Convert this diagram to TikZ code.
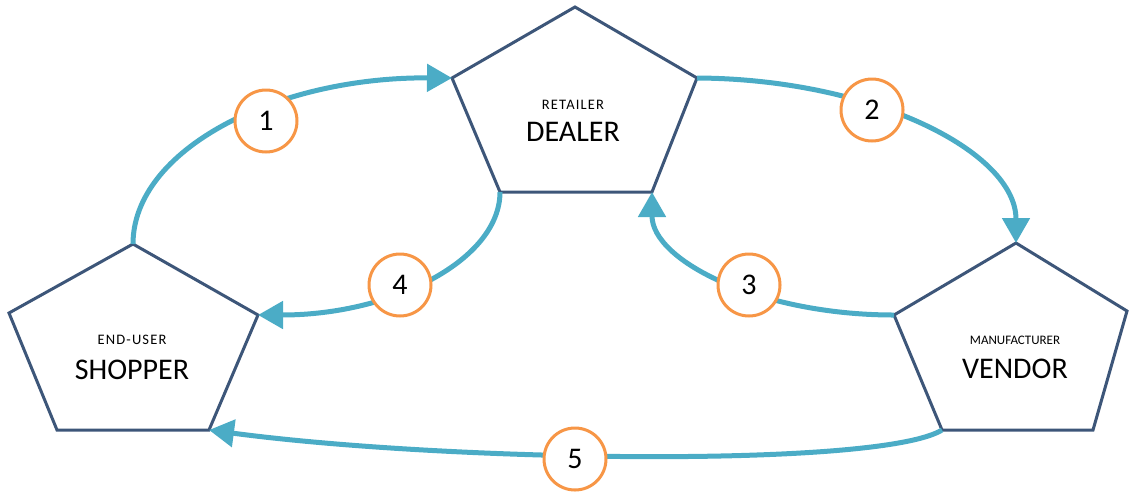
\documentclass[tikz,border=0pt]{standalone}
\usepackage{fontspec}
\setmainfont{Carlito}
\newfontfamily\spacedfont[LetterSpace=8]{Carlito}
\usetikzlibrary{arrows.meta}
\definecolor{penline}{HTML}{3D5679}
\definecolor{flow}{HTML}{4BACC6}
\definecolor{badge}{HTML}{F79646}
\begin{document}
\begin{tikzpicture}[x=1pt,y=-1pt,
  penta/.style={draw=penline,line width=3pt,line join=miter,fill=white},
  flowarrow/.style={draw=flow,line width=5pt,-{Triangle[length=25pt,width=27pt]}},
  badgecircle/.style={circle,draw=badge,line width=3pt,fill=white,minimum size=62pt,inner sep=0pt,font=\fontsize{30}{30}\selectfont},
  bigtxt/.style={font=\fontsize{30}{30}\selectfont,inner sep=0pt},
  smalltxt/.style={font=\fontsize{13}{13}\selectfont,inner sep=0pt},
  spacedtxt/.style={font=\spacedfont\fontsize{14.5}{14.5}\selectfont,inner sep=0pt}]
\useasboundingbox (0,0) rectangle (1129,491);
% vertices
\coordinate (d1) at (575,7);   \coordinate (d2) at (697,78);
\coordinate (d3) at (652,192); \coordinate (d4) at (500,192);
\coordinate (d5) at (452,78);
\coordinate (s1) at (133,244); \coordinate (s2) at (258,315);
\coordinate (s3) at (209,430); \coordinate (s4) at (57,430);
\coordinate (s5) at (9,313);
\coordinate (v1) at (1016,243); \coordinate (v2) at (1127,311);
\coordinate (v3) at (1093,430); \coordinate (v4) at (942,430);
\coordinate (v5) at (894,315);
% pentagons
\draw[penta] (d1) -- (d2) -- (d3) -- (d4) -- (d5) -- cycle;
\draw[penta] (s1) -- (s2) -- (s3) -- (s4) -- (s5) -- cycle;
\draw[penta] (v1) -- (v2) -- (v3) -- (v4) -- (v5) -- cycle;
% texts
\node[spacedtxt] (dsub) at (573,105) {RETAILER};
\node[bigtxt] (dname) at (573,132) {DEALER};
\node[spacedtxt] (ssub) at (132,340) {END-USER};
\node[bigtxt] (sname) at (132,370) {SHOPPER};
\node[smalltxt] (vsub) at (1015,340) {MANUFACTURER};
\node[bigtxt] (vname) at (1015,369) {VENDOR};
% arrows
\draw[flowarrow] (s1) .. controls (133,150) and (275,77) .. (d5);
\draw[flowarrow] (d2) .. controls (873,79) and (1016,152) .. (v1);
\draw[flowarrow] (v5) .. controls (760,315) and (652,261) .. (d3);
\draw[flowarrow] (d4) .. controls (500,260) and (392,315) .. (s2);
\draw[flowarrow] (v4) .. controls (880,468) and (450,462) .. (s3);
% badges
\node[badgecircle] (b1) at (266,121) {1};
\node[badgecircle] (b2) at (872,110) {2};
\node[badgecircle] (b3) at (749,285) {3};
\node[badgecircle] (b4) at (400,285) {4};
\node[badgecircle] (b5) at (575,459) {5};
\end{tikzpicture}
\end{document}
